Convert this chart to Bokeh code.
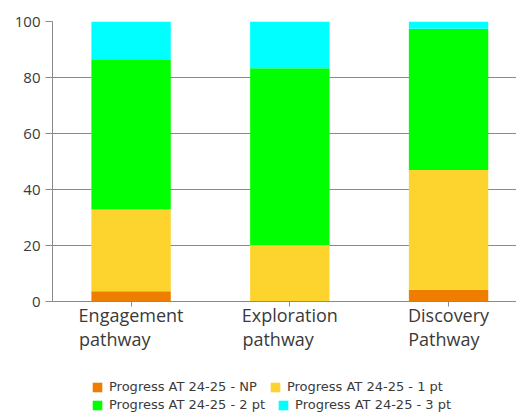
from bokeh.plotting import figure
from bokeh.layouts import column
from bokeh.models import Range1d, FixedTicker, Legend, LegendItem, ColumnDataSource
from bokeh.embed import file_html
from bokeh.resources import INLINE

categories = ["Engagement\npathway       ", "Exploration\npathway     ", "Discovery\nPathway  "]
np_vals = [3.7, 0.0, 4.2]
pt1_vals = [29.2, 20.2, 42.8]
pt2_vals = [53.6, 63.1, 50.4]
pt3_vals = [13.5, 16.7, 2.6]
series = ["Progress AT 24-25 - NP", "Progress AT 24-25 - 1 pt",
          "Progress AT 24-25 - 2 pt", "Progress AT 24-25 - 3 pt"]
colors = ["#EE7D00", "#FDD42E", "#00FF00", "#00FFFF"]
y_ticks = [0, 20, 40, 60, 80, 100]

xs = [i + 0.5 for i in range(len(categories))]
src = ColumnDataSource(dict(x=xs, np=np_vals, p1=pt1_vals, p2=pt2_vals, p3=pt3_vals))
stack_cols = ["np", "p1", "p2", "p3"]

FONT = "Open Sans"
TXT = "#3a3a3a"
GRID = "#8a8a8a"

p = figure(width=516, height=360, output_backend="svg", toolbar_location=None,
           x_range=Range1d(0.005, 2.928), y_range=Range1d(0, 100),
           min_border_left=52, min_border_top=21, min_border_right=0, min_border_bottom=59)
p.outline_line_color = None

p.vbar_stack(stack_cols, x="x", width=0.5, color=colors, line_color=None, source=src)

p.xgrid.grid_line_color = None
p.ygrid.grid_line_color = GRID
p.ygrid.grid_line_width = 1
p.ygrid.ticker = FixedTicker(ticks=y_ticks)

p.yaxis.ticker = FixedTicker(ticks=y_ticks)
p.yaxis.axis_line_color = GRID
p.yaxis.major_tick_line_color = GRID
p.yaxis.major_tick_out = 7
p.yaxis.major_tick_in = 0
p.yaxis.minor_tick_line_color = None
p.yaxis.major_label_text_font = FONT
p.yaxis.major_label_text_font_size = "15px"
p.yaxis.major_label_text_color = TXT
p.yaxis.major_label_standoff = 5

p.xaxis.ticker = FixedTicker(ticks=xs)
p.xaxis.major_label_overrides = {x: c for x, c in zip(xs, categories)}
p.xaxis.axis_line_color = GRID
p.xaxis.major_tick_line_color = GRID
p.xaxis.major_tick_out = 5
p.xaxis.major_tick_in = 0
p.xaxis.minor_tick_line_color = None
p.xaxis.major_label_text_font = FONT
p.xaxis.major_label_text_font_size = "18px"
p.xaxis.major_label_text_color = TXT
p.xaxis.major_label_text_line_height = 1.0
p.xaxis.major_label_standoff = -4

# legend strip: same stacked series, kept far outside this strip's visible y range
lf = figure(width=516, height=52, output_backend="svg", toolbar_location=None,
            x_axis_type=None, y_axis_type=None,
            x_range=Range1d(0, 3), y_range=Range1d(1000, 1001),
            min_border_left=0, min_border_top=0, min_border_right=0, min_border_bottom=0)
lf.outline_line_color = None
lf.grid.visible = False
lrs = lf.vbar_stack(stack_cols, x="x", width=0.5, color=colors, line_color=None, source=src)

def make_legend(idx, y):
    return Legend(items=[LegendItem(label=series[i], renderers=[lrs[i]]) for i in idx],
                  orientation="horizontal", location=(39, y),
                  glyph_width=12, glyph_height=12, label_standoff=6, spacing=12,
                  padding=0, margin=0, border_line_color=None, background_fill_alpha=0,
                  label_text_font="DejaVu Sans", label_text_font_size="13px",
                  label_text_color=TXT, label_height=12)

lf.add_layout(make_legend([0, 1], 18), "center")
lf.add_layout(make_legend([2, 3], 0), "center")

open("out.html", "w").write(file_html(column(p, lf), INLINE))
